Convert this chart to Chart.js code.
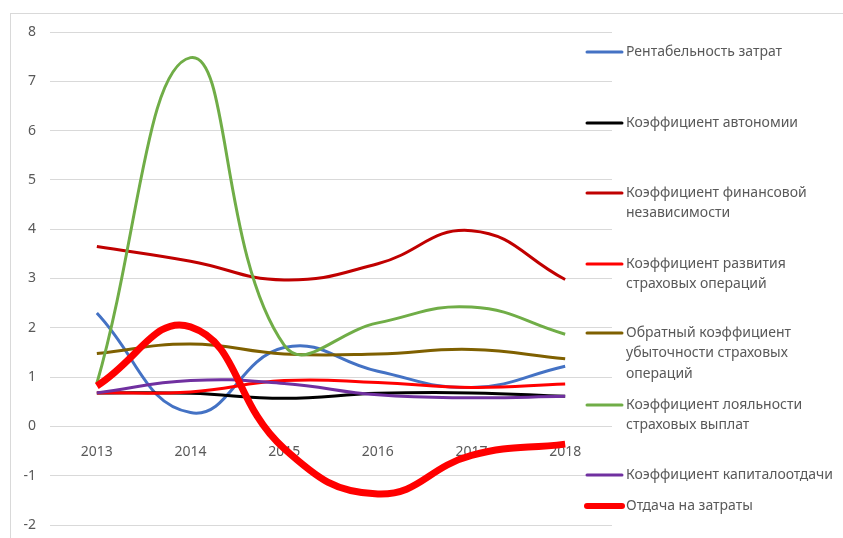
<!DOCTYPE html>
<html>
<head>
<meta charset="utf-8">
<script src="https://cdn.jsdelivr.net/npm/chart.js@4/dist/chart.umd.min.js"></script>
<style>
  html, body { margin: 0; padding: 0; background: #fff; }
  #wrap { position: relative; width: 843px; height: 538px; }
</style>
</head>
<body>
<div id="wrap"><canvas id="lineChart" width="843" height="538"></canvas></div>
<script>
// categories and series
const years = ['2013', '2014', '2015', '2016', '2017', '2018'];

const seriesNames = [
  'Рентабельность затрат',
  'Коэффициент автономии',
  'Коэффициент финансовой независимости',
  'Коэффициент развития страховых операций',
  'Обратный коэффициент убыточности страховых операций',
  'Коэффициент лояльности страховых выплат',
  'Коэффициент капиталоотдачи',
  'Отдача на затраты'
];

const rentabelnost = [2.3, 0.28, 1.6, 1.12, 0.79, 1.22];
const avtonomiya = [0.68, 0.67, 0.57, 0.67, 0.68, 0.61];
const finNezavisimost = [3.65, 3.35, 2.97, 3.3, 3.97, 2.98];
const razvitie = [0.68, 0.7, 0.93, 0.89, 0.79, 0.86];
const obratnyUbytochnost = [1.48, 1.67, 1.47, 1.47, 1.56, 1.37];
const loyalnost = [0.87, 7.48, 1.65, 2.1, 2.42, 1.87];
const kapitaloOtdacha = [0.68, 0.93, 0.87, 0.64, 0.58, 0.61];
const otdacha = [0.82, 2.02, -0.45, -1.37, -0.59, -0.36];

const yTicks = [-2, -1, 0, 1, 2, 3, 4, 5, 6, 7, 8];

const seriesValues = [rentabelnost, avtonomiya, finNezavisimost, razvitie,
  obratnyUbytochnost, loyalnost, kapitaloOtdacha, otdacha];
const seriesColors = ['#4472C4', '#000000', '#C00000', '#FF0000',
  '#7F6000', '#70AD47', '#7030A0', '#FF0000'];
const seriesWidths = [3, 3, 3, 3, 3, 3, 3, 7];

// y of the first line of each legend entry
const legendRows = [52, 123, 193, 264, 333, 405, 475, 506];

const greyText = '#595959';

const frameAndLegend = {
  id: 'frameAndLegend',
  beforeDraw(chart) {
    const ctx = chart.ctx;
    ctx.save();
    ctx.strokeStyle = '#d9d9d9';
    ctx.lineWidth = 1;
    ctx.strokeRect(10.5, 13.5, 900, 600);
    ctx.restore();
  },
  afterDraw(chart) {
    const ctx = chart.ctx;
    ctx.save();
    ctx.font = '14px "Noto Sans"';
    ctx.textBaseline = 'middle';
    const textX = 626;
    const maxW = chart.width - textX - 1;
    chart.data.datasets.forEach((ds, i) => {
      const y = legendRows[i];
      ctx.strokeStyle = ds.borderColor;
      ctx.lineWidth = i === 7 ? 6 : 3;
      ctx.lineCap = 'round';
      ctx.beginPath();
      ctx.moveTo(587, y);
      ctx.lineTo(622, y);
      ctx.stroke();

      // wrap the name the way the original legend does
      const words = ds.label.split(' ');
      let lines = [];
      let cur = '';
      words.forEach(w => {
        const test = cur ? cur + ' ' + w : w;
        if (ctx.measureText(test).width > maxW && cur) {
          lines.push(cur);
          cur = w;
        } else {
          cur = test;
        }
      });
      lines.push(cur);
      ctx.fillStyle = greyText;
      lines.forEach((ln, k) => ctx.fillText(ln, textX, y + k * 20.5));
    });
    ctx.restore();
  }
};

const datasets = seriesNames.map((name, i) => ({
  label: name,
  data: seriesValues[i],
  borderColor: seriesColors[i],
  backgroundColor: seriesColors[i],
  borderWidth: seriesWidths[i],
  pointRadius: 0,
  tension: 0.45,
  fill: false,
  order: seriesNames.length - i
}));

new Chart(document.getElementById('lineChart').getContext('2d'), {
  type: 'line',
  data: { labels: years, datasets: datasets },
  options: {
    responsive: false,
    devicePixelRatio: 1,
    animation: false,
    layout: { padding: { left: 10, right: 231, top: 32, bottom: 13 } },
    plugins: {
      legend: { display: false },
      tooltip: { enabled: false }
    },
    scales: {
      x: {
        type: 'category',
        offset: true,
        position: { y: 0 },
        grid: { display: false },
        border: { display: false },
        ticks: {
          color: greyText,
          font: { family: 'Noto Sans', size: 14 },
          padding: 9,
          maxRotation: 0
        }
      },
      y: {
        min: yTicks[0],
        max: yTicks[yTicks.length - 1],
        afterBuildTicks(scale) {
          scale.ticks = yTicks.map(v => ({ value: v }));
        },
        afterFit(scale) {
          scale.width = 40;
          // the tick padding is horizontal here; keep it out of the vertical room
          scale.paddingTop = 8;
          scale.paddingBottom = 8;
        },
        grid: { color: '#d9d9d9', drawTicks: false },
        border: { display: false },
        ticks: {
          color: greyText,
          font: { family: 'Noto Sans', size: 14 },
          padding: 14
        }
      }
    }
  },
  plugins: [frameAndLegend]
});
</script>
</body>
</html>
